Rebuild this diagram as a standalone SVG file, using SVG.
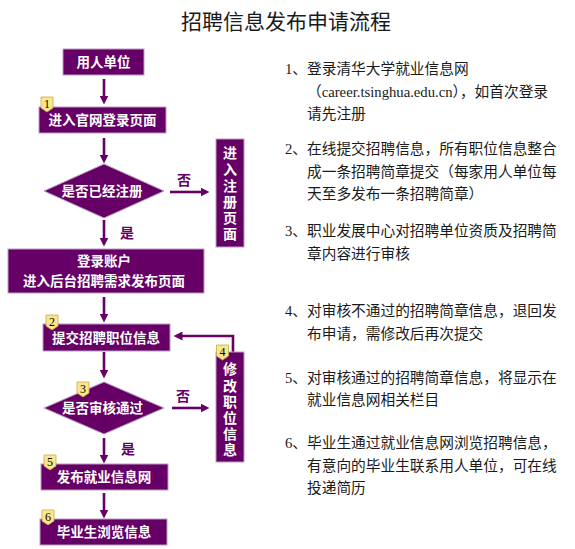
<svg xmlns="http://www.w3.org/2000/svg" xmlns:xlink="http://www.w3.org/1999/xlink" width="575" height="549" viewBox="0 0 575 549">
<style>
.node{fill:#660066;stroke:#b99cc0;stroke-width:1}
.nt{font-family:"Noto Sans CJK SC",sans-serif;font-weight:bold;font-size:13.5px;fill:#ffffff;text-anchor:middle}
.vt{font-family:"Noto Sans CJK SC",sans-serif;font-weight:bold;font-size:14px;fill:#ffffff;writing-mode:vertical-rl;letter-spacing:2.2px}
.lbl{font-family:"Noto Sans CJK SC",sans-serif;font-weight:bold;font-size:14px;fill:#660066;text-anchor:middle}
.conn{fill:none;stroke:#660066;stroke-width:2.6}
.badge{fill:#fce68c;stroke:#c9a84a;stroke-width:0.8}
.bn{font-family:"Liberation Serif",serif;font-size:12px;fill:#000;text-anchor:middle}
.desc{font-family:"Liberation Serif","Noto Sans CJK SC",serif;font-size:14.7px;fill:#1a1a1a}
.title{font-family:"Noto Sans CJK SC",sans-serif;font-size:21px;fill:#1a1a1a;text-anchor:middle}
</style>
<defs>
<marker id="ah" viewBox="0 0 9 9" markerUnits="userSpaceOnUse" markerWidth="9" markerHeight="9" refX="0.5" refY="4.5" orient="auto">
<path d="M0,0 L9,4.5 L0,9 z" fill="#660066"/>
</marker>
<path id="bdg" class="badge" d="M0,0 H12 V11 L6,15 L0,11 Z"/>
</defs>
<rect width="575" height="549" fill="#ffffff"/>
<text class="title" x="286" y="29">招聘信息发布申请流程</text>

<g id="connectors">
<path class="conn" d="M104,79 V96" marker-end="url(#ah)"/>
<path class="conn" d="M104,138 V155" marker-end="url(#ah)"/>
<path class="conn" d="M170,192 H201" marker-end="url(#ah)"/>
<path class="conn" d="M104,220 V238" marker-end="url(#ah)"/>
<path class="conn" d="M104,297 V314" marker-end="url(#ah)"/>
<path class="conn" d="M104,352 V370" marker-end="url(#ah)"/>
<path class="conn" d="M172,408 H201" marker-end="url(#ah)"/>
<path class="conn" d="M233,352 V336 H182" marker-end="url(#ah)"/>
<path class="conn" d="M104,438 V455" marker-end="url(#ah)"/>
<path class="conn" d="M104,493 V510" marker-end="url(#ah)"/>
<text class="lbl" x="184" y="185">否</text>
<text class="lbl" x="127" y="238">是</text>
<text class="lbl" x="183" y="401">否</text>
<text class="lbl" x="128" y="454">是</text>
</g>

<g id="n-employer">
<rect class="node" x="63" y="49" width="81" height="26"/>
<text class="nt" x="103.5" y="67">用人单位</text>
</g>

<g id="n-login-page">
<rect class="node" x="39" y="107" width="127" height="26"/>
<text class="nt" x="102.5" y="125">进入官网登录页面</text>
<use xlink:href="#bdg" x="41" y="97"/>
<text class="bn" x="47" y="108">1</text>
</g>

<g id="n-registered">
<polygon class="node" points="104,164 164,191 104,218 44,191"/>
<text class="nt" x="102" y="196">是否已经注册</text>
</g>

<g id="n-register">
<rect class="node" x="216" y="139" width="28" height="108"/>
<text class="vt" x="230" y="146">进入注册页面</text>
</g>

<g id="n-backend">
<rect class="node" x="8" y="249" width="196" height="44"/>
<text class="nt" x="104" y="265.5">登录账户</text>
<text class="nt" x="104" y="285.5">进入后台招聘需求发布页面</text>
</g>

<g id="n-submit">
<rect class="node" x="43" y="324" width="127" height="27"/>
<text class="nt" x="106" y="342.5">提交招聘职位信息</text>
<use xlink:href="#bdg" x="46" y="315"/>
<text class="bn" x="52" y="326">2</text>
</g>

<g id="n-modify">
<rect class="node" x="216" y="352" width="28" height="110"/>
<text class="vt" x="230" y="362">修改职位信息</text>
<use xlink:href="#bdg" x="216.5" y="345"/>
<text class="bn" x="222.5" y="356">4</text>
</g>

<g id="n-review">
<polygon class="node" points="104,382 164,408 104,434 44,408"/>
<text class="nt" x="102.5" y="413">是否审核通过</text>
<use xlink:href="#bdg" x="77" y="382"/>
<text class="bn" x="83" y="393">3</text>
</g>

<g id="n-publish">
<rect class="node" x="41" y="464" width="127" height="26"/>
<text class="nt" x="104" y="482">发布就业信息网</text>
<use xlink:href="#bdg" x="44" y="455"/>
<text class="bn" x="50" y="466">5</text>
</g>

<g id="n-browse">
<rect class="node" x="40" y="519" width="127" height="26"/>
<text class="nt" x="104" y="537">毕业生浏览信息</text>
<use xlink:href="#bdg" x="42" y="510"/>
<text class="bn" x="48" y="521">6</text>
</g>

<g id="description">
<text class="desc" x="285" y="74">1、登录清华大学就业信息网</text>
<text class="desc" x="307" y="97">（career.tsinghua.edu.cn），如首次登录</text>
<text class="desc" x="307" y="119">请先注册</text>
<text class="desc" x="285" y="154">2、在线提交招聘信息，所有职位信息整合</text>
<text class="desc" x="307" y="177">成一条招聘简章提交（每家用人单位每</text>
<text class="desc" x="307" y="199">天至多发布一条招聘简章）</text>
<text class="desc" x="285" y="236">3、职业发展中心对招聘单位资质及招聘简</text>
<text class="desc" x="307" y="259">章内容进行审核</text>
<text class="desc" x="285" y="316">4、对审核不通过的招聘简章信息，退回发</text>
<text class="desc" x="307" y="339">布申请，需修改后再次提交</text>
<text class="desc" x="285" y="383">5、对审核通过的招聘简章信息，将显示在</text>
<text class="desc" x="307" y="405">就业信息网相关栏目</text>
<text class="desc" x="285" y="448">6、毕业生通过就业信息网浏览招聘信息，</text>
<text class="desc" x="307" y="471">有意向的毕业生联系用人单位，可在线</text>
<text class="desc" x="307" y="493">投递简历</text>
</g>
</svg>
